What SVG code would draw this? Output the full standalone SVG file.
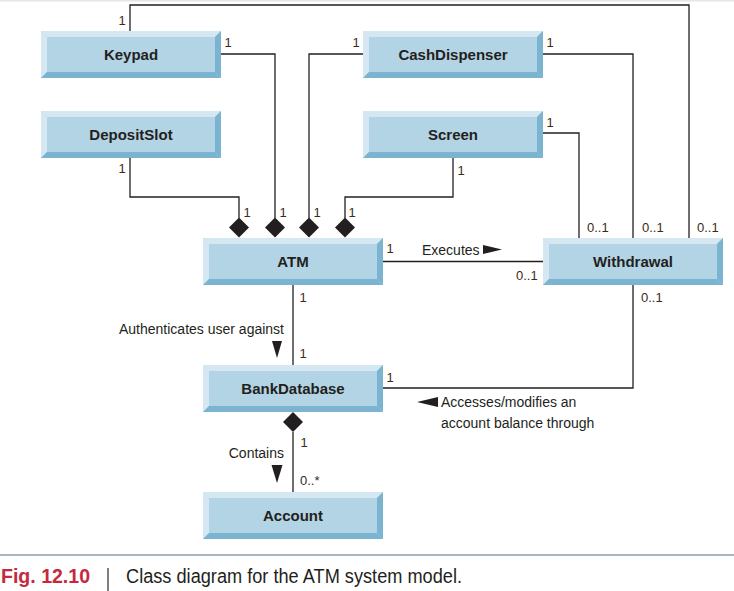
<svg xmlns="http://www.w3.org/2000/svg" xmlns:xlink="http://www.w3.org/1999/xlink" width="734" height="591" viewBox="0 0 734 591">
<style>
.lbl{font-family:"Liberation Sans",Arial,sans-serif;font-weight:bold;font-size:15px;fill:#231f20;text-anchor:middle}
.t{font-family:"Liberation Sans",Arial,sans-serif;font-size:14px;fill:#231f20}
.m{font-family:"Liberation Sans",Arial,sans-serif;font-size:13px;fill:#3a2a20}
.one{text-anchor:middle}
.ln{fill:none;stroke:#231f20;stroke-width:1.3}
.dia{fill:#231f20}
</style>
<defs>
<g id="box">
<rect x="0" y="0" width="180" height="47" fill="#b3d4e5"/>
<polygon points="0,0 180,0 174,6 6,6" fill="#d5e7f1"/>
<polygon points="0,0 6,6 6,41 0,47" fill="#d5e7f1"/>
<polygon points="180,0 180,47 174,41 174,6" fill="#7ab4d0"/>
<polygon points="0,47 6,41 174,41 180,47" fill="#7ab4d0"/>
</g>
</defs>
<rect width="734" height="591" fill="#ffffff"/>
<rect x="0" y="0" width="734" height="1.5" fill="#e6e6e6"/>

<g id="connectors">
<polyline class="ln" points="130,31 130,5 689,5 689,238"/>
<polyline class="ln" points="221,54 275,54 275,218"/>
<polyline class="ln" points="130,158 130,197 239,197 239,218"/>
<polyline class="ln" points="363,54 309,54 309,218"/>
<polyline class="ln" points="453,158 453,197 345,197 345,218"/>
<polyline class="ln" points="543,54 633,54 633,238"/>
<polyline class="ln" points="543,133 579,133 579,238"/>
<line class="ln" x1="383" y1="261.5" x2="543" y2="261.5"/>
<line class="ln" x1="293" y1="285" x2="293" y2="365"/>
<polyline class="ln" points="633,285 633,388 383,388"/>
<line class="ln" x1="293" y1="432" x2="293" y2="492"/>
<polygon class="dia" points="239,217.5 249,227.5 239,237.5 229,227.5"/>
<polygon class="dia" points="275,217.5 285,227.5 275,237.5 265,227.5"/>
<polygon class="dia" points="309,217.5 319,227.5 309,237.5 299,227.5"/>
<polygon class="dia" points="345,217.5 355,227.5 345,237.5 335,227.5"/>
<polygon class="dia" points="293,412 303,422 293,432 283,422"/>
<polygon class="dia" points="483,245 483,254 502,249.5"/>
<polygon class="dia" points="272,341 282,341 277,358"/>
<polygon class="dia" points="271.5,465 282.5,465 277,483"/>
<polygon class="dia" points="438,397 438,407 417,402"/>
<text class="m one" x="122" y="25" fill="#c07a30">1</text>
<text class="m one" x="228" y="47" fill="#2a4a8a">1</text>
<text class="m one" x="356" y="47" fill="#2a3a6a">1</text>
<text class="m one" x="122" y="173" fill="#8a2a2a">1</text>
<text class="m one" x="247" y="217" fill="#9a2a3a">1</text>
<text class="m one" x="283" y="217" fill="#2a4a8a">1</text>
<text class="m one" x="317" y="217" fill="#2a3a8a">1</text>
<text class="m one" x="352" y="217" fill="#b07a30">1</text>
<text class="m one" x="550" y="47">1</text>
<text class="m one" x="550" y="127">1</text>
<text class="m one" x="461" y="175">1</text>
<text class="m one" x="390" y="253">1</text>
<text class="m one" x="303" y="302">1</text>
<text class="m one" x="303" y="358">1</text>
<text class="m one" x="390" y="382">1</text>
<text class="m one" x="304" y="447">1</text>
<text class="m" x="587" y="232">0..1</text>
<text class="m" x="642" y="232">0..1</text>
<text class="m" x="697" y="232">0..1</text>
<text class="m" x="516" y="280">0..1</text>
<text class="m" x="641" y="302">0..1</text>
<text class="m" x="300" y="485">0..*</text>
<text class="t" x="422" y="255">Executes</text>
<text class="t" x="284" y="334" text-anchor="end">Authenticates user against</text>
<text class="t" x="284" y="458" text-anchor="end">Contains</text>
<text class="t" x="441" y="407">Accesses/modifies an</text>
<text class="t" x="441" y="428">account balance through</text>
</g>

<g id="Keypad"><use xlink:href="#box" x="41" y="31"/><text class="lbl" x="131" y="60">Keypad</text></g>
<g id="DepositSlot"><use xlink:href="#box" x="41" y="111"/><text class="lbl" x="131" y="140">DepositSlot</text></g>
<g id="CashDispenser"><use xlink:href="#box" x="363" y="31"/><text class="lbl" x="453" y="60">CashDispenser</text></g>
<g id="Screen"><use xlink:href="#box" x="363" y="111"/><text class="lbl" x="453" y="140">Screen</text></g>
<g id="ATM"><use xlink:href="#box" x="203" y="238"/><text class="lbl" x="293" y="267">ATM</text></g>
<g id="Withdrawal"><use xlink:href="#box" x="543" y="238"/><text class="lbl" x="633" y="267">Withdrawal</text></g>
<g id="BankDatabase"><use xlink:href="#box" x="203" y="365"/><text class="lbl" x="293" y="394">BankDatabase</text></g>
<g id="Account"><use xlink:href="#box" x="203" y="492"/><text class="lbl" x="293" y="521">Account</text></g>

<g id="caption">
<line x1="0" y1="555" x2="734" y2="555" stroke="#8e9bab" stroke-width="1.6"/>
<text x="1" y="583" font-family="'Liberation Sans',Arial,sans-serif" font-weight="bold" font-size="20" fill="#c8283c" textLength="89" lengthAdjust="spacingAndGlyphs">Fig. 12.10</text>
<line x1="108" y1="568" x2="108" y2="591" stroke="#3a3a3a" stroke-width="1.3"/>
<text x="126" y="583" font-family="'Liberation Sans',Arial,sans-serif" font-size="20" fill="#231f20" textLength="336" lengthAdjust="spacingAndGlyphs">Class diagram for the ATM system model.</text>
</g>
</svg>
